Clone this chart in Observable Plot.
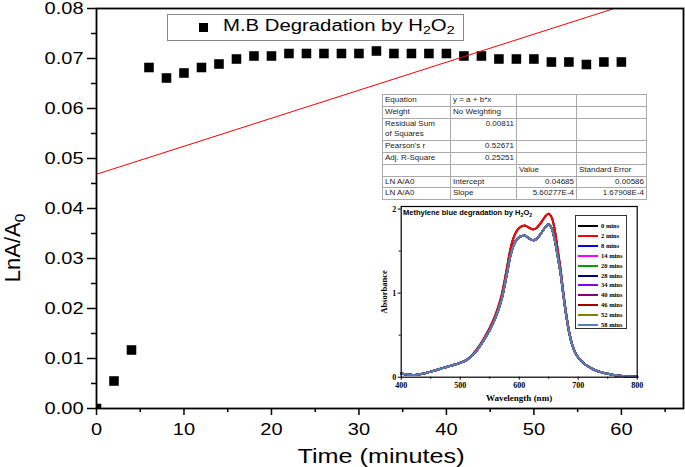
<!DOCTYPE html>
<html><head><meta charset="utf-8">
<script src="https://cdn.jsdelivr.net/npm/d3@7"></script>
<script src="https://cdn.jsdelivr.net/npm/@observablehq/plot@0.6"></script>
<style>
body{margin:0;background:#fff;}
#wrap{position:relative;width:685px;height:467px;overflow:hidden;font-family:"Liberation Sans",Arial,sans-serif;color:#000;}
#main,#inset{position:absolute;left:0;top:0;}
#inset{left:370px;top:200px;}
.abs{position:absolute;white-space:nowrap;}
sub{font-size:70%;vertical-align:-0.3em;line-height:0;}
#legend{left:167px;top:14px;width:297px;height:27px;box-sizing:border-box;border:1px solid #888;background:#fff;}
#legend .sq{position:absolute;left:31px;top:8px;width:9px;height:9px;background:#000;}
#legend .tx{position:absolute;left:55px;top:2px;font-size:16px;transform:scaleX(1.27);transform-origin:0 0;}
#xtitle{left:381px;top:445px;font-size:20px;transform:translateX(-50%) scaleX(1.26);}
#ytitle{left:13px;top:248px;font-size:22px;transform:translate(-50%,-50%) rotate(-90deg);}
#fit{position:absolute;left:382px;top:94px;width:264px;border-collapse:collapse;background:#fff;font-size:8px;color:#222;table-layout:fixed;}
#fit td{border:1px solid #aaa;padding:0 2px;line-height:10.8px;height:10.8px;vertical-align:top;white-space:nowrap;overflow:hidden;}
#fit td.r{text-align:right;}
#ititle{left:403px;top:208px;font-size:7.5px;font-weight:bold;}
#iabs{left:384px;top:292px;font-family:"Liberation Serif",serif;font-weight:bold;font-size:8.5px;transform:translate(-50%,-50%) rotate(-90deg);}
#iwl{left:519px;top:393px;font-family:"Liberation Serif",serif;font-weight:bold;font-size:9px;transform:translateX(-50%);}
#ileg{left:575px;top:215px;width:52px;height:114px;box-sizing:border-box;border:1px solid #333;background:#fff;}
#ileg .row{position:absolute;left:2px;height:9px;font-family:"Liberation Serif",serif;font-weight:bold;font-size:6.5px;line-height:9px;}
#ileg .ln{position:absolute;left:0;top:4px;width:20px;height:2px;}
#ileg .lb{position:absolute;left:23px;top:0;}
</style></head>
<body><div id="wrap"><div id="main"></div><div id="inset"></div></div>
<script>
// ---- main series: ln(A/A0) vs time ----
const times = [0,2,4,6,8,10,12,14,16,18,20,22,24,26,28,30,32,34,36,38,40,42,44,46,48,50,52,54,56,58,60];
const lnRatio = [0,0.0055,0.0117,0.0682,0.0661,0.0671,0.0682,0.0689,0.0699,0.0705,0.0705,0.0710,0.0710,0.0710,0.0710,0.0710,0.0715,0.0710,0.0710,0.0710,0.0710,0.0705,0.0705,0.0699,0.0699,0.0699,0.0693,0.0693,0.0688,0.0693,0.0693];
const xTicks = [0,10,20,30,40,50,60];
const xMinor = [5,15,25,35,45,55,65];
const yTicks = [0,0.01,0.02,0.03,0.04,0.05,0.06,0.07,0.08];
const yMinor = [0.005,0.015,0.025,0.035,0.045,0.055,0.065,0.075];
// ---- linear fit table ----
const fitLabels = ["Equation","Weight","Residual Sum of Squares","Pearson's r","Adj. R-Square"];
const fitValues = ["y = a + b*x","No Weighting","0.00811","0.52671","0.25251"];
const paramRows = ["LN A/A0","LN A/A0"];
const paramNames = ["Intercept","Slope"];
const paramValues = [0.04685, 5.60277e-4];
const paramValueText = ["0.04685","5.60277E-4"];
const paramErrText = ["0.00586","1.67908E-4"];
const fitRange = [0,60];
// ---- inset spectra ----
const wavelengths = [400,410,420,430,440,450,460,470,480,490,500,510,520,530,540,550,560,570,575,580,585,590,595,600,605,610,615,620,625,630,635,640,645,650,655,660,665,670,675,680,685,690,695,700,710,720,730,740,750,760,770,780,790,800];
const absHigh = [.045,.032,.026,.034,.048,.066,.086,.108,.128,.148,.172,.203,.262,.348,.458,.585,.745,.970,1.140,1.330,1.520,1.650,1.730,1.775,1.798,1.805,1.785,1.765,1.758,1.778,1.820,1.870,1.920,1.945,1.900,1.760,1.530,1.290,1.000,.740,.530,.385,.293,.237,.161,.116,.080,.057,.040,.027,.018,.011,.007,.004];
const absLow = [.045,.032,.026,.034,.048,.066,.086,.108,.128,.148,.170,.200,.255,.335,.440,.560,.710,.920,1.080,1.260,1.440,1.560,1.630,1.665,1.680,1.682,1.660,1.636,1.628,1.648,1.690,1.740,1.790,1.820,1.770,1.640,1.450,1.240,.970,.720,.520,.380,.290,.235,.160,.115,.080,.057,.040,.027,.018,.011,.007,.004];
const seriesLabels = ["0 mins","2 mins","8 mins","14 mins","20 mins","28 mins","34 mins","40 mins","46 mins","52 mins","58 mins"];
const seriesColors = ["#000000","#ff0000","#0000ff","#ff00ff","#00a000","#000080","#8000ff","#800080","#a00000","#808000","#4f7fc0"];
const seriesGroup = ["high","high","low","low","low","low","low","low","low","low","low"];

const points = times.map((t,i)=>({t, v: lnRatio[i]}));
const fitLine = fitRange.map(t=>({t, v: paramValues[0] + paramValues[1]*t}));

const main = Plot.plot({
  width: 685, height: 467,
  marginLeft: 96, marginRight: 2, marginTop: 8, marginBottom: 59,
  x: {domain: [0, 67.1]},
  y: {domain: [0, 0.08]},
  style: {fontFamily: '"Liberation Sans", Arial, sans-serif', fontSize: "16px", color: "#000", background: "transparent"},
  marks: [
    Plot.dot(points, {x: "t", y: "v", symbol: "square", r: 5.4, fill: "#000", clip: true}),
    Plot.line(fitLine, {x: "t", y: "v", stroke: "#ff0000", strokeWidth: 1, clip: true}),
    Plot.frame({stroke: "#000", strokeWidth: 1.8}),
    Plot.axisX({ticks: xTicks, tickSize: 7, tickPadding: 8, tickFormat: d => String(d), label: null, strokeWidth: 1.5}),
    Plot.axisX({ticks: xMinor, tickSize: 4, tickFormat: () => "", label: null, strokeWidth: 1.5}),
    Plot.axisY({ticks: yTicks, tickSize: 9, tickPadding: 4, tickFormat: d3.format(".2f"), label: null, strokeWidth: 1.5}),
    Plot.axisY({ticks: yMinor, tickSize: 5, tickFormat: () => "", label: null, strokeWidth: 1.5})
  ]
});
document.getElementById("main").appendChild(main);
// widen the tick labels (the reference uses a wide face)
main.querySelectorAll("text").forEach(t => {
  const len = t.getComputedTextLength();
  if (len > 0) {
    t.setAttribute("textLength", (len * 1.25).toFixed(2));
    t.setAttribute("lengthAdjust", "spacingAndGlyphs");
  }
});

const spectra = [];
seriesLabels.forEach((s,k) => {
  const arr = seriesGroup[k] === "high" ? absHigh : absLow;
  wavelengths.forEach((w,i) => spectra.push({series: s, wl: w, a: arr[i]}));
});
const inset = Plot.plot({
  width: 275, height: 210,
  marginLeft: 30.7, marginRight: 8.3, marginTop: 6, marginBottom: 33.3,
  x: {domain: [400, 800]},
  y: {domain: [0, 2.03]},
  color: {domain: seriesLabels, range: seriesColors},
  style: {fontFamily: '"Liberation Serif", serif', fontWeight: "bold", fontSize: "8px", color: "#000", background: "transparent", overflow: "visible"},
  marks: [
    Plot.line(spectra, {x: "wl", y: "a", z: "series", stroke: "series", strokeWidth: 2, curve: "catmull-rom"}),
    Plot.frame({stroke: "#000", strokeWidth: 1.2}),
    Plot.axisX({ticks: [400,500,600,700,800], tickSize: 3, tickPadding: 2, tickFormat: d => String(d), label: null}),
    Plot.axisX({ticks: [450,550,650,750], tickSize: 2, tickFormat: () => "", label: null}),
    Plot.axisY({ticks: [0,1,2], tickSize: 3, tickPadding: 2, tickFormat: d => String(d), label: null}),
    Plot.axisY({ticks: [0.5,1.5], tickSize: 2, tickFormat: () => "", label: null})
  ]
});
document.getElementById("inset").appendChild(inset);

// ---- HTML overlays ----
const wrap = document.getElementById("wrap");
function add(html){ wrap.insertAdjacentHTML("beforeend", html); }
add(`<div id="legend" class="abs"><div class="sq"></div><div class="tx">M.B Degradation by H<sub>2</sub>O<sub>2</sub></div></div>`);
add(`<div id="xtitle" class="abs">Time (minutes)</div>`);
add(`<div id="ytitle" class="abs">LnA/A<sub>0</sub></div>`);
let rows = "";
fitLabels.forEach((l,i) => {
  const isEq = i < 2;
  const lab = l === "Residual Sum of Squares" ? "Residual Sum<br>of Squares" : l;
  rows += `<tr><td>${lab}</td><td class="${isEq ? "" : "r"}">${fitValues[i]}</td><td></td><td></td></tr>`;
});
rows += `<tr><td></td><td></td><td>Value</td><td>Standard Error</td></tr>`;
paramRows.forEach((r,i) => {
  rows += `<tr><td>${r}</td><td>${paramNames[i]}</td><td class="r">${paramValueText[i]}</td><td class="r">${paramErrText[i]}</td></tr>`;
});
add(`<table id="fit"><colgroup><col style="width:68px"><col style="width:66px"><col style="width:60px"><col style="width:70px"></colgroup>${rows}</table>`);
add(`<div id="ititle" class="abs">Methylene blue degradation by H<sub>2</sub>O<sub>2</sub></div>`);
add(`<div id="iabs" class="abs">Absorbance</div>`);
add(`<div id="iwl" class="abs">Wavelength (nm)</div>`);
let leg = `<div id="ileg" class="abs">`;
seriesLabels.forEach((s,k) => {
  leg += `<div class="row" style="top:${5 + k*9.9}px"><div class="ln" style="background:${seriesColors[k]}"></div><div class="lb">${s}</div></div>`;
});
leg += `</div>`;
add(leg);
</script>
</body></html>
